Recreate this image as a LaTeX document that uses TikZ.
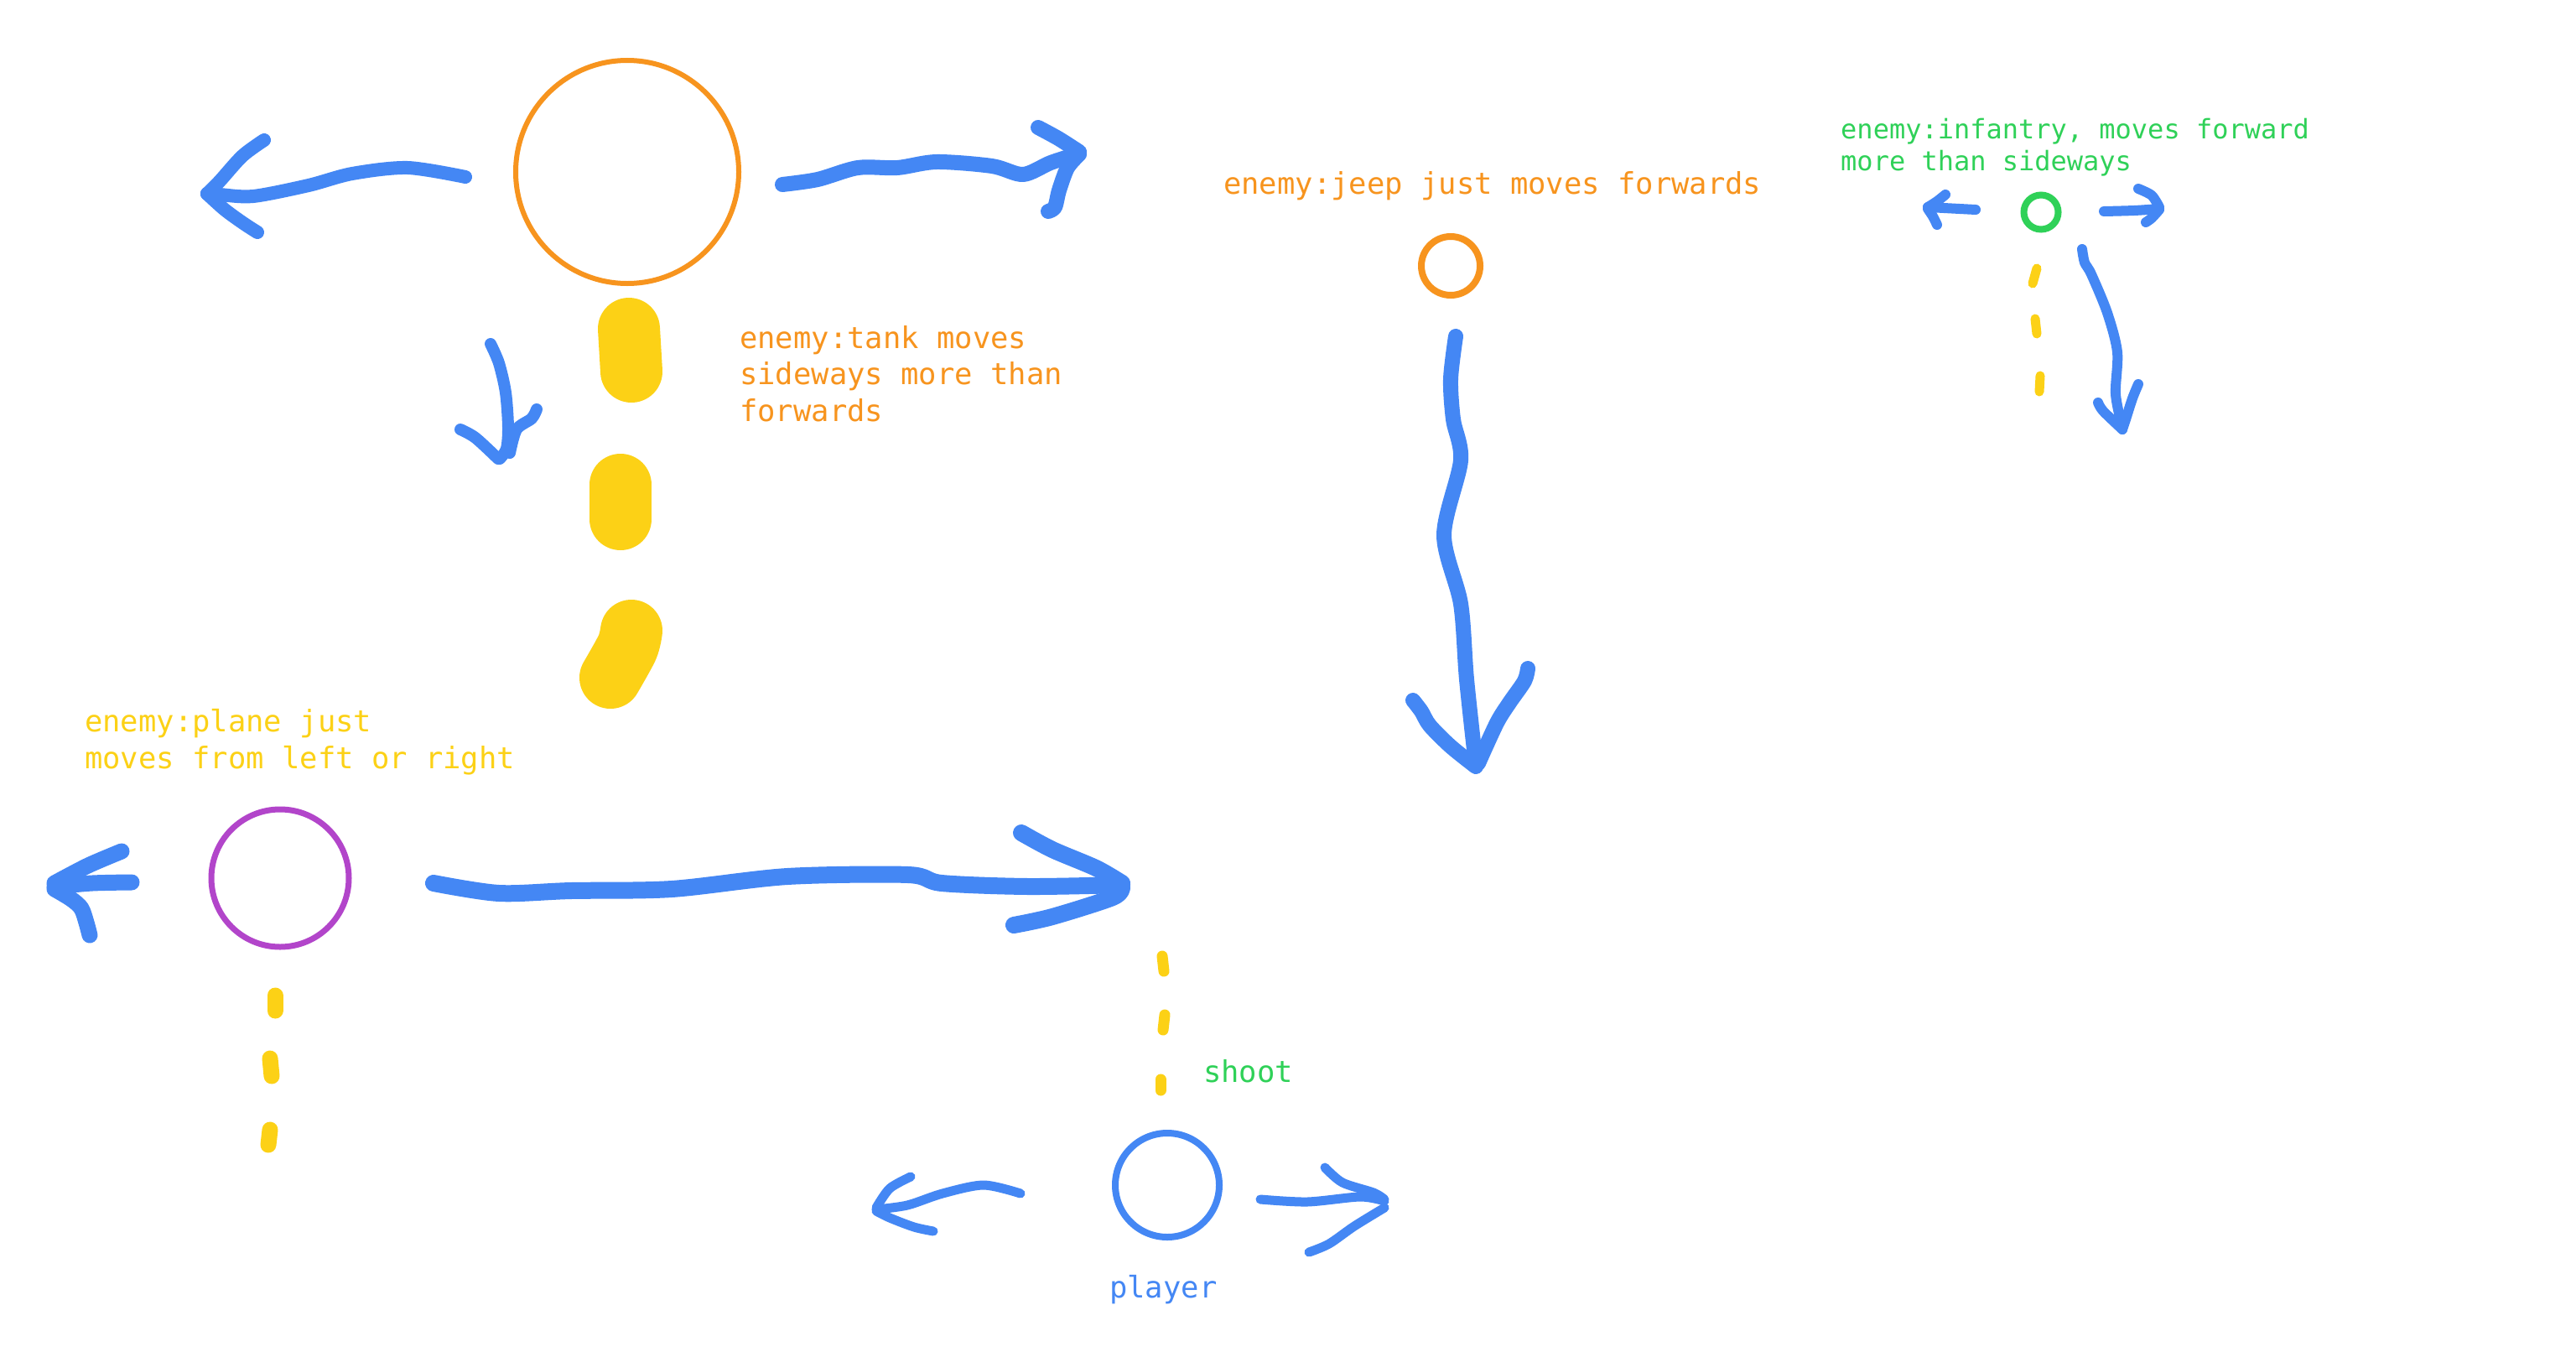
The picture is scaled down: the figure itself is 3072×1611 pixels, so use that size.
\documentclass[tikz,border=0pt]{standalone}
\usepackage{fontspec}
\newfontfamily\monofnt{DejaVu Sans Mono}
\definecolor{gblue}{HTML}{4487F4}
\definecolor{gorange}{HTML}{F7941E}
\definecolor{gyellow}{HTML}{FCD116}
\definecolor{ggreen}{HTML}{2FD158}
\definecolor{gpurple}{HTML}{B245CA}
\tikzset{
  stroke/.style={draw=gblue, line cap=round, line join=round},
  ydash/.style={draw=gyellow, line cap=round, line join=round},
  unit/.style={circle, inner sep=0pt, outer sep=0pt},
  label/.style={anchor=base west, inner sep=0pt, font=\monofnt\fontsize{35.5}{43.5}\selectfont},
}
\begin{document}
\begin{tikzpicture}[x=1pt,y=-1pt]
\useasboundingbox[fill=white] (0,0) rectangle (3072,1611);

% ---------- units ----------
\node[unit, draw=gorange, line width=6pt, minimum size=266pt] (tank) at (748,205) {};
\node[unit, draw=gorange, line width=8pt, minimum size=70pt] (jeep) at (1730,317) {};
\node[unit, draw=ggreen, line width=8pt, minimum size=41pt] (infantry) at (2434,253) {};
\node[unit, draw=gpurple, line width=7pt, minimum size=164pt] (plane) at (334,1047) {};
\node[unit, draw=gblue, line width=8pt, minimum size=124pt] (player) at (1392,1413) {};

% ---------- labels ----------
\node[label, text=gorange] (tanktext) at (882,415)
  {\vtop{\hbox{enemy:tank moves}\hbox{sideways more than}\hbox{forwards}}};
\node[label, text=gorange] (jeeptext) at (1459,231) {enemy:jeep just moves forwards};
\node[label, text=ggreen, font=\monofnt\fontsize{32}{38.5}\selectfont] (inftext) at (2195,165)
  {\vtop{\hbox{enemy:infantry, moves forward}\hbox{more than sideways}}};
\node[label, text=gyellow, font=\monofnt\fontsize{35.5}{44}\selectfont] (planetext) at (101,872)
  {\vtop{\hbox{enemy:plane just}\hbox{moves from left or right}}};
\node[label, text=ggreen] (shoottext) at (1435,1290) {shoot};
\node[label, text=gblue] (playertext) at (1323,1547) {player};

% ---------- tank ----------
\draw[stroke, line width=16pt] plot[smooth] coordinates {(555,211) (486,200) (420,207) (368,221) (302,234) (262,232) (247,231)};
\draw[stroke, line width=16pt] plot[smooth] coordinates {(315,167) (289,186) (262,216) (247,231)};
\draw[stroke, line width=16pt] plot[smooth] coordinates {(247,231) (268,250) (290,266) (307,277)};

\draw[stroke, line width=18pt] plot[smooth] coordinates {(933,220) (975,214) (1023,200) (1070,200) (1117,193) (1183,198) (1220,208) (1253,194) (1287,183)};
\draw[stroke, line width=18pt] plot[smooth] coordinates {(1238,152) (1262,165) (1287,181)};
\draw[stroke, line width=18pt] plot[smooth] coordinates {(1287,184) (1273,200) (1263,227) (1258,247) (1250,252)};

\draw[stroke, line width=14pt] plot[smooth] coordinates {(585,410) (595,433) (603,468) (606,509) (604,535) (596,547)};
\draw[stroke, line width=14pt] plot[smooth] coordinates {(549,512) (567,522) (594,547)};
\draw[stroke, line width=14pt] plot[smooth] coordinates {(640,488) (634,499) (616,512) (608,540)};

\draw[ydash, line width=74pt] (750,392) -- (753,443);
\draw[ydash, line width=74pt] (740,578) -- (740,619);
\draw[ydash, line width=74pt] plot[smooth] coordinates {(753,752) (748,772) (728,808)};

% ---------- jeep ----------
\draw[stroke, line width=18pt] plot[smooth] coordinates {(1736,401) (1730,452) (1733,500) (1742,549) (1722,638) (1742,720) (1749,810) (1760,912)};
\draw[stroke, line width=18pt] plot[smooth] coordinates {(1685,835) (1695,848) (1705,865) (1730,890) (1760,914)};
\draw[stroke, line width=18pt] plot[smooth] coordinates {(1822,797) (1818,812) (1800,838) (1785,862) (1763,910)};

% ---------- infantry ----------
\draw[stroke, line width=12pt] (2356,250) -- (2299,247);
\draw[stroke, line width=12pt] plot[smooth] coordinates {(2320,232) (2310,240) (2299,247)};
\draw[stroke, line width=12pt] plot[smooth] coordinates {(2299,249) (2305,258) (2310,268)};
\draw[stroke, line width=12pt] plot[smooth] coordinates {(2509,252) (2545,251) (2575,249)};
\draw[stroke, line width=12pt] plot[smooth] coordinates {(2550,225) (2566,233) (2575,247)};
\draw[stroke, line width=12pt] plot[smooth] coordinates {(2575,250) (2566,260) (2559,265)};
\draw[stroke, line width=12pt] plot[smooth] coordinates {(2483,297) (2486,313) (2494,327) (2513,373) (2525,420) (2523,470) (2531,510)};
\draw[stroke, line width=12pt] plot[smooth] coordinates {(2502,480) (2508,490) (2531,512)};
\draw[stroke, line width=12pt] plot[smooth] coordinates {(2550,458) (2543,475) (2535,500) (2531,512)};

\draw[ydash, line width=11pt] (2429,320) -- (2424,338);
\draw[ydash, line width=11pt] (2427,380) -- (2429,398);
\draw[ydash, line width=11pt] (2433,448) -- (2432,467);

% ---------- plane ----------
\draw[stroke, line width=19pt] plot[smooth] coordinates {(157,1052) (110,1053) (65,1057)};
\draw[stroke, line width=19pt] plot[smooth] coordinates {(145,1015) (105,1032) (65,1053)};
\draw[stroke, line width=19pt] plot[smooth] coordinates {(65,1060) (85,1072) (97,1083) (103,1100) (107,1115)};

\draw[stroke, line width=20pt] plot[smooth] coordinates {(517,1053) (595,1065) (681,1062) (801,1060) (939,1045) (1083,1043) (1123,1053) (1226,1057) (1338,1055)};
\draw[stroke, line width=20pt] plot[smooth] coordinates {(1218,993) (1255,1013) (1307,1035) (1338,1053)};
\draw[stroke, line width=20pt] plot[smooth] coordinates {(1209,1103) (1255,1093) (1327,1070) (1338,1058)};

\draw[ydash, line width=19pt] (328,1187) -- (328,1205);
\draw[ydash, line width=19pt] (322,1262) -- (324,1283);
\draw[ydash, line width=19pt] (322,1347) -- (320,1365);

% ---------- player ----------
\draw[ydash, line width=13pt] (1386,1140) -- (1388,1158);
\draw[ydash, line width=13pt] (1389,1210) -- (1387,1228);
\draw[ydash, line width=13pt] (1384,1287) -- (1384,1300);

\draw[stroke, line width=11pt] plot[smooth] coordinates {(1217,1423) (1173,1413) (1124,1423) (1082,1437) (1045,1442)};
\draw[stroke, line width=11pt] plot[smooth] coordinates {(1086,1403) (1061,1417) (1045,1440)};
\draw[stroke, line width=11pt] plot[smooth] coordinates {(1045,1444) (1061,1452) (1090,1463) (1113,1468)};
\draw[stroke, line width=11pt] plot[smooth] coordinates {(1503,1430) (1559,1433) (1622,1427) (1651,1432)};
\draw[stroke, line width=11pt] plot[smooth] coordinates {(1580,1392) (1601,1410) (1638,1422) (1651,1430)};
\draw[stroke, line width=11pt] plot[smooth] coordinates {(1561,1493) (1585,1483) (1615,1462) (1651,1440)};
\end{tikzpicture}
\end{document}
